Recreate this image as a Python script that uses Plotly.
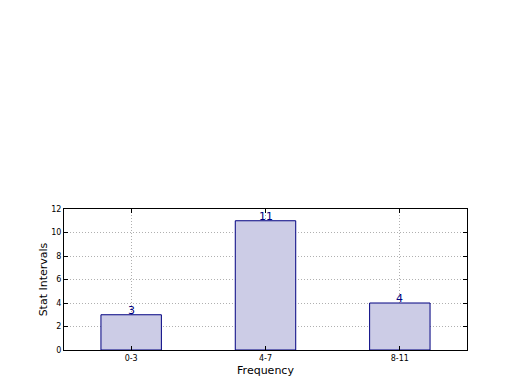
import plotly.graph_objects as go

categories = ["0-3", "4-7", "8-11"]
values = [3, 11, 4]
y_ticks = [0, 2, 4, 6, 8, 10, 12]

fig = go.Figure()
fig.add_trace(go.Bar(
    x=categories, y=values, width=0.45,
    marker=dict(color="#ccccE6", line=dict(color="#000080", width=1)),
))
for c, v in zip(categories, values):
    fig.add_annotation(x=c, y=v, text=str(v), showarrow=False, yanchor="bottom",
                       yshift=-4, font=dict(size=11, color="#000080", family="DejaVu Sans"))

axis_common = dict(showline=True, linecolor="black", linewidth=1, mirror="ticks",
                   ticks="inside", ticklen=4, tickcolor="black",
                   showgrid=True, gridcolor="#b0b0b0", griddash="1px,2px", gridwidth=1,
                   zeroline=False, tickfont=dict(size=8, family="DejaVu Sans", color="black"))

fig.update_layout(
    width=520, height=390,
    margin=dict(l=56, r=61, t=201, b=48),
    paper_bgcolor="white", plot_bgcolor="white",
    showlegend=False,
    font=dict(family="DejaVu Sans", color="black"),
    xaxis=dict(range=[-0.5, 2.5], title=dict(text="Frequency", font=dict(size=11), standoff=4), **axis_common),
    yaxis=dict(range=[0, 12], tickvals=y_ticks, title=dict(text="Stat Intervals", font=dict(size=11), standoff=1), **axis_common),
)
fig.write_html("out.html")
